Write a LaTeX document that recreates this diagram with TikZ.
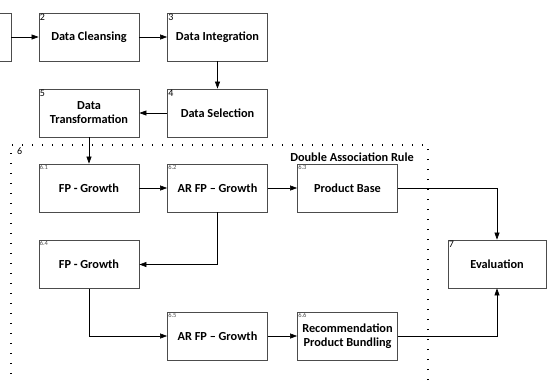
\documentclass[tikz,border=0pt]{standalone}
\usepackage{fontspec}
\setmainfont{Carlito}
\usepackage{tikz}
\usetikzlibrary{shapes,arrows,positioning,calc,arrows.meta}

\tikzset{
  stepbox/.style={draw=black!70, line width=0.8pt, minimum width=100pt, minimum height=48pt,
    align=center, font=\fontsize{12.3}{14}\selectfont\bfseries, inner sep=2pt},
  numtag/.style={anchor=north west, inner sep=1pt, font=\fontsize{10}{10}\selectfont},
  subtag/.style={anchor=north west, inner sep=1pt, font=\fontsize{6.5}{6.5}\selectfont, text=black!70},
  flow/.style={-{Triangle[length=7pt,width=5pt]}, line width=0.6pt}
}

\begin{document}
\begin{tikzpicture}[x=1pt, y=-1pt]
        \useasboundingbox (0,0) rectangle (547,381);
        \clip (0,0) rectangle (547,381);

        % Preprocessing steps
        \node[stepbox] (b1) at (-39,37) {};
        \node[stepbox, label={[numtag]north west:2}] (b2) at (89,37) {Data Cleansing};
        \node[stepbox, label={[numtag]north west:3}] (b3) at (217.5,37) {Data Integration};
        \node[stepbox, label={[numtag]north west:4}] (b4) at (217.5,113) {Data Selection};
        \node[stepbox, label={[numtag]north west:5}] (b5) at (89,113) {Data\\Transformation};

        % Mining block (6)
        \draw[line width=1.3pt, dash pattern=on 1.3pt off 8.7pt] (428,400) -- (428,145) -- (11,145) -- (11,400);
        \node[numtag] (t6) at (16,147) {6};
        \node[stepbox, label={[subtag]north west:6.1}] (s61) at (89,188) {FP - Growth};
        \node[stepbox, label={[subtag]north west:6.2}] (s62) at (217.5,188) {AR FP -- Growth};
        \node[stepbox, label={[subtag]north west:6.3}] (s63) at (347.5,188) {Product Base};
        \node[stepbox, label={[subtag]north west:6.4}] (s64) at (89,264.5) {FP - Growth};
        \node[stepbox, label={[subtag]north west:6.5}] (s65) at (217.5,336) {AR FP -- Growth};
        \node[stepbox, label={[subtag]north west:6.6}] (s66) at (347.5,336) {Recommendation\\Product Bundling};
        \node[font=\fontsize{12.3}{14}\selectfont\bfseries] (dar) at (352,157) {Double Association Rule};

        % Evaluation
        \node[stepbox, minimum width=98pt, label={[numtag]north west:7}] (ev) at (497,264) {Evaluation};

        % Connectors
        \draw[flow] (b1) -- (b2);
        \draw[flow] (b2) -- (b3);
        \draw[flow] (b3) -- (b4);
        \draw[flow] (b4) -- (b5);
        \draw[flow] (b5) -- (s61);
        \draw[flow] (s61) -- (s62);
        \draw[flow] (s62) -- (s63);
        \draw[flow] (s62.south) |- (s64.east);
        \draw[flow] (s64.south) |- (s65.west);
        \draw[flow] (s65) -- (s66);
        \draw[flow] (s63.east) -| (ev.north);
        \draw[flow] (s66.east) -| (ev.south);
\end{tikzpicture}
\end{document}
